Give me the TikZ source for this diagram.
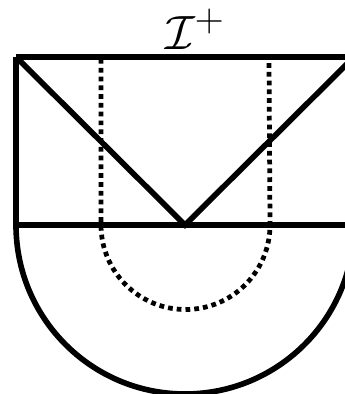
\documentclass[tikz,border=0pt]{standalone}
\usetikzlibrary{positioning,calc}
\begin{document}
\begin{tikzpicture}[line width=3.2pt]
		\useasboundingbox (0,0) rectangle (6.9,7.88);
		\clip (0,0) rectangle (6.9,7.88);
		\draw (0.32,6.74) -- (7.3,6.74);
		\draw (0.32,6.74) -- (0.32,3.38) -- (7.3,3.38);
		\draw (0.32,6.74) -- (3.7,3.38) -- (7.08,6.74);
		\draw (0.32,3.38) arc (180:360:3.38);
		
		\draw [line width=2.7pt,dash pattern=on 2.7pt off 2.3pt] (2.02,6.7) -- (2.02,3.38) arc (180:360:1.69) -- (5.38,6.7);
		
		\node[scale=1.1,inner sep=0pt] (scri) at (3.9,7.3) {\Huge $\mathcal{I}^+$};
	\end{tikzpicture}
\end{document}
